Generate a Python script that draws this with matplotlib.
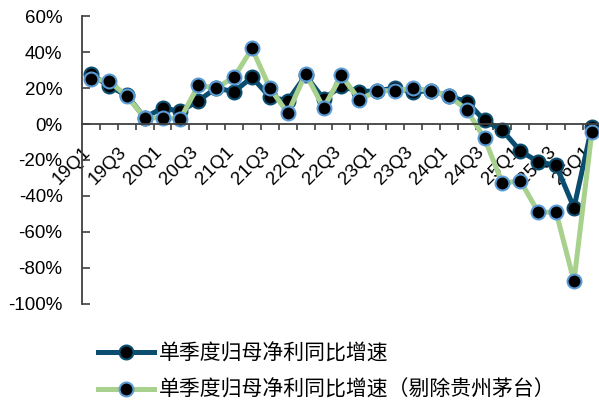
import matplotlib.pyplot as plt
import matplotlib.transforms as mtransforms
import numpy as np

plt.rcParams['font.family'] = ['Liberation Sans', 'DejaVu Sans']

quarters = ['19Q1', '19Q2', '19Q3', '19Q4', '20Q1', '20Q2', '20Q3', '20Q4',
            '21Q1', '21Q2', '21Q3', '21Q4', '22Q1', '22Q2', '22Q3', '22Q4',
            '23Q1', '23Q2', '23Q3', '23Q4', '24Q1', '24Q2', '24Q3', '24Q4',
            '25Q1', '25Q2', '25Q3', '25Q4', '26Q1']
# 单季度归母净利同比增速 (%)
total = [28, 21, 16, 3.5, 9, 7, 13, 20, 18, 26, 15, 13, 27, 14, 21, 18,
         18.5, 20, 18, 18.5, 15.5, 12.5, 2, -3.5, -15, -21, -23, -46.5, -1.5]
# 剔除贵州茅台 (%)
ex_maotai = [25, 24, 15.5, 3.5, 3.5, 3, 21.5, 20, 26, 42, 20, 6, 28, 9, 27, 13.5,
             18.5, 18.5, 20, 18.5, 15.5, 8, -8, -33, -31.5, -49, -49, -87.5, -4.5]

dark = '#0b4d6e'
green = '#a9d18e'
edge_blue = '#5b9bd5'

fig = plt.figure(figsize=(5.99, 4.03), dpi=100)
ax = fig.add_axes([0.137, 0.246, 0.866, 0.714])

ax.spines['bottom'].set_position(('data', 0))
for s in ['top', 'right']:
    ax.spines[s].set_visible(False)
for s in ['left', 'bottom']:
    ax.spines[s].set_color('#404040')
    ax.spines[s].set_linewidth(1.3)

x = np.arange(len(quarters))
ax.plot(x, total, color=dark, lw=3.6, marker='o', ms=10, mfc='black',
        mec=dark, mew=1.5, label='单季度归母净利同比增速')
ax.plot(x, ex_maotai, color=green, lw=3.6, marker='o', ms=10, mfc='black',
        mec=edge_blue, mew=1.5, label='单季度归母净利同比增速（剔除贵州茅台）')

ax.set_xlim(-0.5, len(quarters) - 0.5)
ax.set_ylim(-100, 60)
ax.set_yticks(np.arange(-100, 61, 20))
ax.set_yticklabels([f'{v}%' for v in range(-100, 61, 20)], fontsize=13.5)
ax.tick_params(axis='y', direction='in', length=6, width=1.2, pad=14, color='#404040')

ax.set_xticks(x[::2])
ax.set_xticks(x[:-1] + 0.5, minor=True)
ax.tick_params(axis='x', which='major', length=0, pad=14)
ax.tick_params(axis='x', which='minor', direction='out', length=4, width=1.2, color='#404040')
ax.set_xticklabels(quarters[::2], fontsize=13.5, rotation=45, ha='right',
                   va='top', rotation_mode='anchor')
shift = mtransforms.ScaledTranslation(-0.09, 0, fig.dpi_scale_trans)
for lab in ax.get_xticklabels():
    lab.set_transform(lab.get_transform() + shift)

leg = fig.legend(loc='upper left', bbox_to_anchor=(0.133, 0.197), frameon=False,
                 prop={'family': ['Noto Sans CJK SC', 'DejaVu Sans'], 'size': 15},
                 handlelength=2.65, labelspacing=0.7, handletextpad=0.25)

fig.savefig('out.png', dpi=100)
